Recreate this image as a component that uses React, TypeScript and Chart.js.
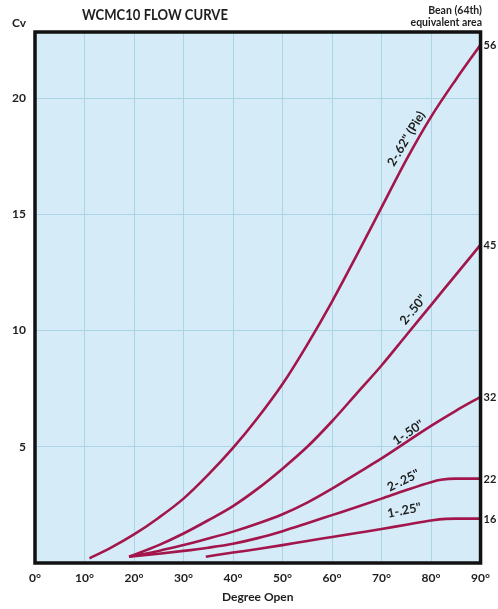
import { useEffect, useRef } from 'react';
import { Chart, registerables } from 'chart.js';

Chart.register(...registerables);

// ---- data (degree open vs Cv) ----
const degPie = [11, 15, 20, 25, 30, 35, 40, 45, 50, 55, 60, 65, 70, 75, 80, 85, 90];
const cvPie = [0.2, 0.62, 1.23, 1.95, 2.77, 3.8, 4.95, 6.25, 7.7, 9.4, 11.25, 13.25, 15.3, 17.35, 19.2, 20.8, 22.3];

const deg2x50 = [19, 25, 30, 35, 40, 45, 50, 55, 60, 65, 70, 75, 80, 85, 90];
const cv2x50 = [0.27, 0.77, 1.27, 1.84, 2.45, 3.2, 4.06, 5.0, 6.1, 7.3, 8.5, 9.8, 11.1, 12.4, 13.7];

const deg1x50 = [19, 25, 30, 35, 40, 45, 50, 55, 60, 65, 70, 75, 80, 85, 90];
const cv1x50 = [0.27, 0.52, 0.77, 1.05, 1.35, 1.7, 2.1, 2.6, 3.2, 3.85, 4.5, 5.2, 5.9, 6.55, 7.15];

const deg2x25 = [19, 25, 30, 35, 40, 45, 50, 55, 60, 65, 70, 75, 80, 82, 85, 90];
const cv2x25 = [0.27, 0.4, 0.52, 0.66, 0.83, 1.07, 1.37, 1.71, 2.06, 2.41, 2.77, 3.14, 3.48, 3.58, 3.63, 3.63];

const deg1x25 = [34.5, 40, 45, 50, 55, 60, 65, 70, 75, 80, 83, 85, 90];
const cv1x25 = [0.27, 0.45, 0.6, 0.77, 0.95, 1.12, 1.29, 1.46, 1.65, 1.83, 1.9, 1.91, 1.91];

const seriesNames = ['2-.62" (Pie)', '2-.50"', '1-.50"', '2-.25"', '1-.25"'];
const beanSizes = ['56', '45', '32', '22', '16'];
const xTickValues = [0, 10, 20, 30, 40, 50, 60, 70, 80, 90];
const yTickValues = [5, 10, 15, 20];

// label anchors (in data units) and angles for the curve captions
const captionDeg = [75.0, 76.4, 75.4, 74.4, 74.6];
const captionCv = [18.25, 10.9, 5.61, 3.55, 2.26];
const captionAngle = [-59, -51, -34, -26, -11];

const LINE = '#a3164c';
const TXT = '#1e1e1e';
const FONT = 'Lato, "Open Sans", sans-serif';

const seriesDeg = [degPie, deg2x50, deg1x50, deg2x25, deg1x25];
const seriesCv = [cvPie, cv2x50, cv1x50, cv2x25, cv1x25];

function fitText(ctx: CanvasRenderingContext2D, text: string, cx: number, cy: number, width: number) {
  const w = ctx.measureText(text).width;
  const k = w > 0 ? width / w : 1;
  ctx.save();
  ctx.translate(cx, cy);
  ctx.scale(k, 1);
  ctx.fillText(text, 0, 0);
  ctx.restore();
}

const decor = {
  id: 'decor',
  beforeDraw(chart: any) {
    const { ctx, chartArea: a } = chart;
    ctx.save();
    ctx.fillStyle = '#ffffff';
    ctx.fillRect(0, 0, chart.width, chart.height);
    ctx.fillStyle = '#d5ebf7';
    ctx.fillRect(a.left, a.top, a.right - a.left, a.bottom - a.top);
    ctx.restore();
  },
  afterDatasetsDraw(chart: any) {
    const { ctx, chartArea: a, scales } = chart;
    const xs = scales.x;
    const ys = scales.y;
    ctx.save();
    // frame
    ctx.strokeStyle = '#111111';
    ctx.lineWidth = 3.5;
    ctx.strokeRect(a.left, a.top, a.right - a.left, a.bottom - a.top);

    ctx.fillStyle = TXT;
    // title
    ctx.textAlign = 'center';
    ctx.textBaseline = 'middle';
    ctx.font = `bold 16px ${FONT}`;
    fitText(ctx, 'WCMC10 FLOW CURVE', 155, 15, 146);
    // Cv
    ctx.font = `bold 12px ${FONT}`;
    ctx.fillText('Cv', 19, 23);
    // bean header
    ctx.textAlign = 'right';
    ctx.font = `bold 10.5px ${FONT}`;
    ctx.fillText('Bean (64th)', 482, 11);
    ctx.fillText('equivalent area', 482, 23);
    // bean sizes at line ends
    ctx.textAlign = 'left';
    ctx.font = `bold 11px ${FONT}`;
    seriesCv.forEach((vals, i) => {
      const y = ys.getPixelForValue(vals[vals.length - 1]);
      ctx.fillText(beanSizes[i], a.right + 3, y + 1);
    });
    // curve captions
    ctx.textAlign = 'center';
    ctx.font = `bold 12.5px ${FONT}`;
    seriesNames.forEach((name, i) => {
      const px = xs.getPixelForValue(captionDeg[i]);
      const py = ys.getPixelForValue(captionCv[i]);
      ctx.save();
      ctx.translate(px, py);
      ctx.rotate((captionAngle[i] * Math.PI) / 180);
      ctx.fillText(name, 0, 0);
      ctx.restore();
    });
    ctx.restore();
  },
};

export default function App() {
  const ref = useRef<HTMLCanvasElement | null>(null);

  useEffect(() => {
    if (!ref.current) return;
    const datasets = seriesNames.map((name, i) => ({
      label: name,
      data: seriesDeg[i].map((d, j) => ({ x: d, y: seriesCv[i][j] })),
      borderColor: LINE,
      backgroundColor: LINE,
      borderWidth: 2.6,
      pointRadius: 0,
      cubicInterpolationMode: 'monotone' as const,
      fill: false,
    }));
    const chart = new Chart(ref.current, {
      type: 'line',
      data: { datasets },
      options: {
        responsive: false,
        animation: false,
        layout: { padding: { top: 32, right: 14, left: 0, bottom: 0 } },
        plugins: {
          legend: { display: false },
          tooltip: { enabled: false },
          title: { display: false },
        },
        scales: {
          x: {
            type: 'linear',
            min: 0,
            max: 90,
            border: { display: false },
            grid: {
              drawTicks: false,
              lineWidth: 1,
              color: (c: any) =>
                c.tick && (c.tick.value === 0 || c.tick.value === 90) ? 'rgba(0,0,0,0)' : '#a9d5e6',
            },
            afterBuildTicks: (s: any) => {
              s.ticks = xTickValues.map((v) => ({ value: v }));
            },
            ticks: {
              padding: 8,
              color: TXT,
              maxRotation: 0,
              autoSkip: false,
              font: { family: FONT, size: 12, weight: 'bold' },
              callback: (v: any) => `${v}°`,
            },
            title: {
              display: true,
              text: 'Degree Open',
              color: TXT,
              font: { family: FONT, size: 12, weight: 'bold' },
              padding: { top: 0, bottom: 5 },
            },
            afterFit: (s: any) => {
              s.height = 46;
            },
          },
          y: {
            type: 'linear',
            min: 0,
            max: 22.85,
            border: { display: false },
            grid: { drawTicks: false, lineWidth: 1, color: '#a9d5e6' },
            afterBuildTicks: (s: any) => {
              s.ticks = yTickValues.map((v) => ({ value: v }));
            },
            ticks: {
              padding: 9,
              color: TXT,
              font: { family: FONT, size: 12, weight: 'bold' },
            },
            afterFit: (s: any) => {
              s.width = 35;
            },
          },
        },
      },
      plugins: [decor],
    } as any);
    return () => chart.destroy();
  }, []);

  return (
    <div style={{ position: 'absolute', left: 0, top: 0, width: 498, height: 609, background: '#fff' }}>
      <canvas ref={ref} width={498} height={609} style={{ display: 'block' }} />
    </div>
  );
}
